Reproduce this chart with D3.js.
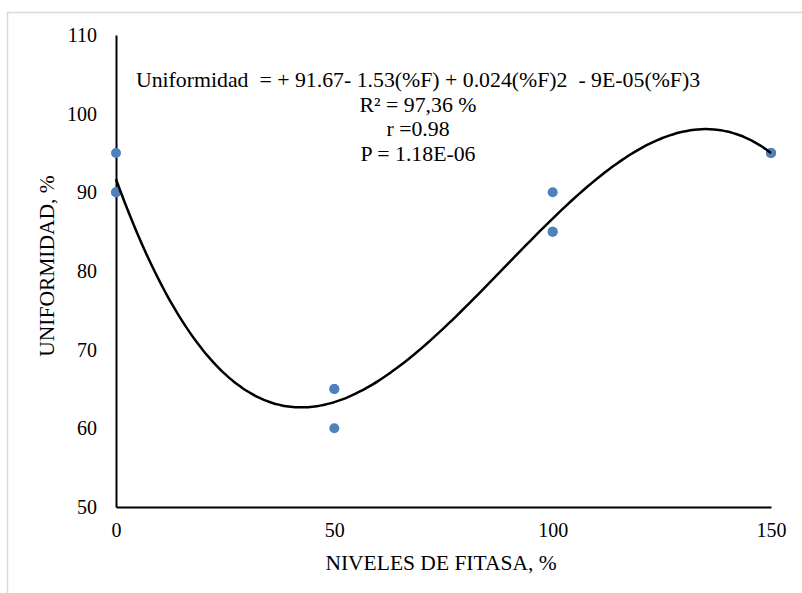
<!DOCTYPE html>
<html>
<head>
<meta charset="utf-8">
<script src="https://cdn.jsdelivr.net/npm/d3@7"></script>
<style>
  body { margin: 0; background: #fff; }
  text { font-family: "Liberation Serif", "Times New Roman", serif; fill: #000; }
</style>
</head>
<body>
<div id="chart"></div>
<script>
// data (3 reps per level)
var niveles = [0, 0, 0, 50, 50, 50, 100, 100, 100, 150, 150, 150];
var uniformidad = [95, 90, 90, 65, 65, 60, 90, 85, 85, 95, 95, 95];
var xTicks = [0, 50, 100, 150];
var yTicks = [50, 60, 70, 80, 90, 100, 110];
var eqLines = [
  "Uniformidad  = + 91.67- 1.53(%F) + 0.024(%F)2  - 9E-05(%F)3",
  "R\u00b2 = 97,36 %",
  "r =0.98",
  "P = 1.18E-06"
];

var W = 802, H = 593;
var margin = {top: 35, right: 31, bottom: 86, left: 116},
    width = W - margin.left - margin.right,
    height = H - margin.top - margin.bottom;

var root = d3.select("#chart").append("svg")
    .attr("width", W)
    .attr("height", H);

// outer chart frame
root.append("rect")
    .attr("x", 7.5).attr("y", 12.5)
    .attr("width", 800).attr("height", 600)
    .attr("fill", "none")
    .attr("stroke", "#d9d9d9")
    .attr("stroke-width", 1.5);

var svg = root.append("g")
    .attr("transform", "translate(" + margin.left + "," + margin.top + ")");

var x = d3.scaleLinear().domain([0, 150]).range([0, width]);
var y = d3.scaleLinear().domain([50, 110]).range([height, 0]);

var xAxis = d3.axisBottom(x).tickValues(xTicks).tickSize(0).tickPadding(16);
var yAxis = d3.axisLeft(y).tickValues(yTicks).tickSize(0).tickPadding(19);

svg.append("g")
    .attr("class", "x axis")
    .attr("transform", "translate(0," + height + ")")
    .call(xAxis);

svg.append("g")
    .attr("class", "y axis")
    .call(yAxis);

svg.selectAll(".axis path").attr("stroke", "#000").attr("stroke-width", 2);
svg.selectAll(".axis text")
    .style("font-family", "'Liberation Serif', serif")
    .style("font-size", "20px");
svg.selectAll(".y.axis text").attr("dy", "0.33em");

// least squares cubic fit of the data
function fitCubic(xs, ys) {
  var A = [], b = [];
  for (var i = 0; i < 4; i++) {
    A.push([0, 0, 0, 0]); b.push(0);
  }
  xs.forEach(function(xv, k) {
    for (var i = 0; i < 4; i++) {
      for (var j = 0; j < 4; j++) A[i][j] += Math.pow(xv, i + j);
      b[i] += ys[k] * Math.pow(xv, i);
    }
  });
  // gaussian elimination
  for (var c = 0; c < 4; c++) {
    var p = c;
    for (var r = c + 1; r < 4; r++) if (Math.abs(A[r][c]) > Math.abs(A[p][c])) p = r;
    var t = A[c]; A[c] = A[p]; A[p] = t;
    var tb = b[c]; b[c] = b[p]; b[p] = tb;
    for (var r = c + 1; r < 4; r++) {
      var f = A[r][c] / A[c][c];
      for (var j = c; j < 4; j++) A[r][j] -= f * A[c][j];
      b[r] -= f * b[c];
    }
  }
  var coef = [0, 0, 0, 0];
  for (var i = 3; i >= 0; i--) {
    var s = b[i];
    for (var j = i + 1; j < 4; j++) s -= A[i][j] * coef[j];
    coef[i] = s / A[i][i];
  }
  return coef;
}

var coef = fitCubic(niveles, uniformidad);
var curve = d3.range(0, 150.01, 1).map(function(v) {
  return {x: v, y: coef[0] + coef[1] * v + coef[2] * v * v + coef[3] * v * v * v};
});

var pts = niveles.map(function(v, i) { return {x: v, y: uniformidad[i]}; });

svg.selectAll(".point")
    .data(pts)
  .enter().append("circle")
    .attr("class", "point")
    .attr("r", 5)
    .attr("cx", function(d) { return x(d.x); })
    .attr("cy", function(d) { return y(d.y); })
    .attr("fill", "#4f81bd");

svg.append("path")
    .datum(curve)
    .attr("fill", "none")
    .attr("stroke", "#000")
    .attr("stroke-width", 2.5)
    .attr("d", d3.line()
      .x(function(d) { return x(d.x); })
      .y(function(d) { return y(d.y); })
      .curve(d3.curveBasis));

// equation block
svg.selectAll(".eq")
    .data(eqLines)
  .enter().append("text")
    .attr("class", "eq")
    .attr("x", 418 - margin.left)
    .attr("y", function(d, i) { return 87 - margin.top + i * 24.5; })
    .attr("text-anchor", "middle")
    .style("white-space", "pre")
    .style("font-size", "21.8px")
    .text(function(d) { return d; });

// axis titles
root.append("text")
    .attr("x", 441)
    .attr("y", 570)
    .attr("text-anchor", "middle")
    .style("font-size", "21.5px")
    .text("NIVELES DE FITASA, %");

root.append("text")
    .attr("transform", "translate(54,266) rotate(-90)")
    .attr("text-anchor", "middle")
    .style("font-size", "21.5px")
    .text("UNIFORMIDAD, %");
</script>
</body>
</html>
